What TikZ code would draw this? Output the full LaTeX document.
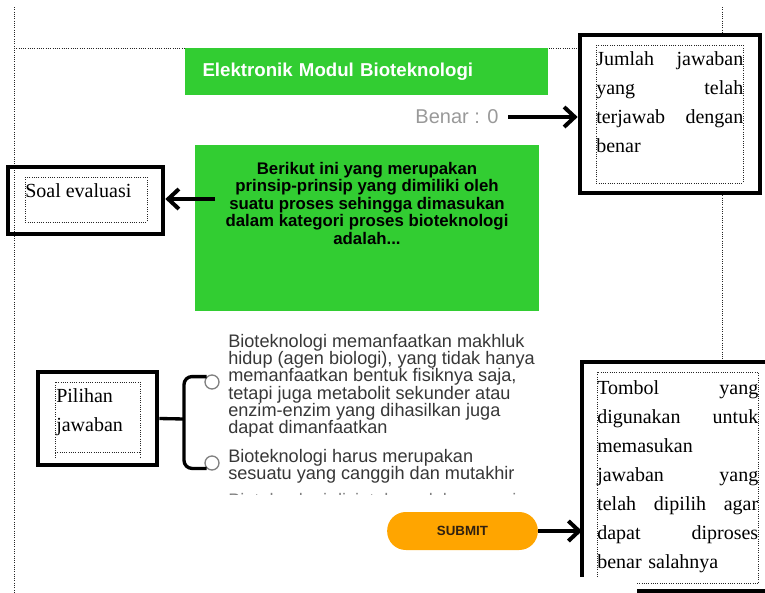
\documentclass[tikz,border=0pt]{standalone}
\usepackage{fontspec}
\setmainfont{Liberation Serif}
\setsansfont{Liberation Sans}
\usetikzlibrary{arrows.meta,calc}

\definecolor{appgreen}{RGB}{50,205,50}
\definecolor{btnorange}{RGB}{255,165,0}
\definecolor{optgray}{RGB}{55,55,55}
\newcommand\opttight{\lineskiplimit=-20pt\relax}

\tikzset{
  notebox/.style={draw,line width=3.5pt,inner sep=0pt},
  guide/.style={densely dotted,line width=0.7pt,black!85},
  callout/.style={line width=3pt,-{Straight Barb[length=8pt,width=15pt]}},
  bracket/.style={line width=2.5pt,rounded corners=6pt},
  notetext/.style={font=\fontsize{15}{21.75}\selectfont,align=left,inner sep=0pt,anchor=north west},
  opttext/.style={font=\sffamily\fontsize{13.6}{12.9}\selectfont\opttight,text=optgray,align=left,inner sep=0pt,anchor=north west},
  radio/.style={circle,draw=gray,line width=1pt,fill=white,minimum size=10.5pt,inner sep=0pt},
}

\begin{document}
\begin{tikzpicture}[x=0.75pt,y=-0.75pt,line join=miter]
  \useasboundingbox (0,0) rectangle (765,593);
  \clip (0,0) rectangle (765,593);
  % garis halaman
  \draw[guide] (14,7) -- (14,593);
  \draw[guide] (14,48) -- (580,48);
  \draw[guide] (722,7) -- (722,35);
  \draw[guide] (722,193) -- (722,362);
  % tampilan aplikasi
  \node[fill=appgreen,minimum width=272pt,minimum height=35pt,text width=246pt,inner xsep=12.75pt,align=left,
        text=white,font=\sffamily\bfseries\fontsize{14}{16}\selectfont] (title) at (366.5,71.5) {Elektronik Modul Bioteknologi};
  \node[text=black!40,font=\sffamily\fontsize{15}{17}\selectfont,inner xsep=7pt] (benar) at (457,117) {Benar : 0};
  \node[fill=appgreen,minimum width=258pt,minimum height=124.5pt] (question) at (367,228) {};
  \node[anchor=north,align=center,inner sep=0pt,font=\sffamily\bfseries\fontsize{12.6}{13.1}\selectfont] (qtext) at (367,162)
    {Berikut ini yang merupakan\\prinsip-prinsip yang dimiliki oleh\\suatu proses sehingga dimasukan\\dalam kategori proses bioteknologi\\adalah...};
  \node[opttext] (optA) at (228,334) {Bioteknologi memanfaatkan makhluk\\hidup (agen biologi), yang tidak hanya\\memanfaatkan bentuk fisiknya saja,\\tetapi juga metabolit sekunder atau\\enzim-enzim yang dihasilkan juga\\dapat dimanfaatkan};
  \node[opttext] (optB) at (228,449) {Bioteknologi harus merupakan\\sesuatu yang canggih dan mutakhir};
  \begin{scope}
    \clip (220,486) rectangle (540,494.5);
    \node[opttext,text=gray] (optC) at (228,493) {Bioteknologi diciptakan oleh manusia};
  \end{scope}
  \node[radio] (radioA) at (212,382) {};
  \node[radio] (radioB) at (212,463) {};
  \node[fill=btnorange,rounded corners=14pt,minimum width=113pt,minimum height=28.5pt,
        text=black!75!brown,font=\sffamily\bfseries\fontsize{10}{12}\selectfont] (submit) at (462.5,531) {SUBMIT};
  % kotak keterangan
  \node[notebox,minimum width=135pt,minimum height=118.5pt] (jumlahbox) at (670,114) {};
  \draw[guide] (596,45) rectangle (743,183);
  \node[notetext,text width=110.25pt] (jumlahtext) at (596,51)
    {Jumlah\hfill jawaban\\yang\hfill telah\\terjawab\hfill dengan\\benar};
  \node[notebox,minimum width=116.25pt,minimum height=50.25pt] (soalbox) at (85.5,200.5) {};
  \draw[guide] (25,177) rectangle (147,222);
  \node[notetext] (soaltext) at (25,183) {Soal evaluasi};
  \node[notebox,minimum width=89.25pt,minimum height=69.75pt] (pilihanbox) at (97.5,418.5) {};
  \draw[guide] (55,458) -- (55,382) -- (140,382) -- (140,458);
  \draw[guide] (55,452) -- (140,452);
  \node[notetext] (pilihantext) at (56,388) {Pilihan\\jawaban};
  \draw[line width=3.5pt] (770,362) -- (582,362) -- (582,577);
  \draw[line width=3.5pt] (637,591) -- (770,591);
  \draw[guide] (597,577) -- (597,372) -- (758,372) -- (758,583);
  \draw[guide] (637,583) -- (758,583);
  \coordinate (tombol) at (582,533);
  \node[notetext,text width=120.75pt] (tomboltext) at (597,380)
    {Tombol\hfill yang\\digunakan\hfill untuk\\memasukan\\jawaban\hfill yang\\telah\hfill dipilih\hfill agar\\dapat\hfill diproses\\benar salahnya};
  % panah
  \draw[callout] (benar.east) -- (benar.east -| jumlahbox.west);
  \coordinate (qarrow) at (215,199);
  \draw[callout] (qarrow) -- (qarrow -| soalbox.east);
  \draw[callout] (submit.east) -- (submit.east -| tombol);
  \coordinate (bracemid) at (184,419);
  \draw[bracket] (pilihanbox.east) -- (bracemid);
  \draw[bracket] (radioA.135) -| (bracemid) |- (radioB.225);
\end{tikzpicture}
\end{document}
